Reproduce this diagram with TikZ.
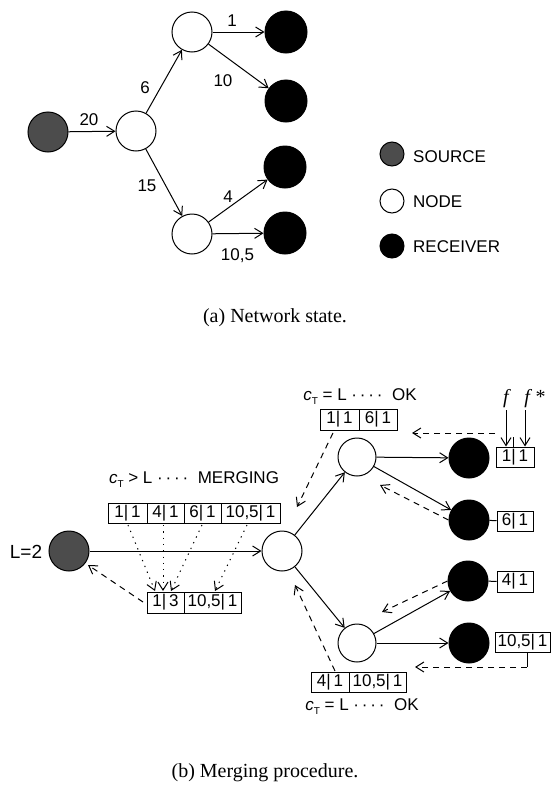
\documentclass[tikz,border=0pt]{standalone}
\usepackage{fontspec}
\setmainfont{Liberation Serif}
\setsansfont{Liberation Sans}
\usetikzlibrary{arrows.meta}
\newcommand{\cTlab}{\textit{c}\raisebox{-0.45ex}{\fontsize{10}{10}\selectfont T}}
\begin{document}
\begin{tikzpicture}[x=1pt,y=-1pt,
  every node/.style={font=\sffamily\fontsize{17}{17}\selectfont},
  srcnode/.style={circle,draw,line width=1pt,fill=black!70,minimum size=40pt,inner sep=0pt},
  inode/.style={circle,draw,line width=1pt,fill=white,minimum size=40pt,inner sep=0pt},
  rnode/.style={circle,draw,line width=1pt,fill=black,minimum size=42pt,inner sep=0pt},
  arr/.style={line width=1pt,-{Straight Barb[length=8pt,width=10pt]}},
  darr/.style={arr,dash pattern=on 6pt off 5pt},
  parr/.style={arr,dash pattern=on 1.3pt off 5pt},
  cell/.style={draw,line width=1pt,minimum height=20pt,inner sep=0pt},
  captext/.style={font=\rmfamily\fontsize{20}{20}\selectfont},
  lbl/.style={inner sep=0pt}
]
\useasboundingbox (0,0) rectangle (552,790);
% ---------- (a) ----------
\node[srcnode] (s) at (48,132) {};
\node[inode] (n0) at (136,131) {};
\node[inode] (n1) at (192,32) {};
\node[inode] (n2) at (192,234) {};
\node[rnode] (r1) at (286,32) {};
\node[rnode] (r2) at (286,101) {};
\node[rnode] (r3) at (285,167) {};
\node[rnode] (r4) at (285,233) {};
\draw[arr] (s) -- (n0);
\draw[arr] (n0) -- (n1);
\draw[arr] (n0) -- (n2);
\draw[arr] (n1) -- (r1);
\draw[arr] (n1) -- (r2);
\draw[arr] (n2) -- (r3);
\draw[arr] (n2) -- (r4);
\node[lbl] (l20) at (89,119.5) {20};
\node[lbl] (l6) at (145,87.5) {6};
\node[lbl] (l15) at (147,186) {15};
\node[lbl] (l1) at (232,20.5) {1};
\node[lbl] (l10) at (223,81) {10};
\node[lbl] (l4) at (228,197) {4};
\node[lbl] (l105) at (237.5,256) {10,5};
% legend
\node[srcnode,minimum size=24pt] (ls) at (392,154) {};
\node[inode,minimum size=24pt] (ln) at (392,201) {};
\node[rnode,minimum size=24pt] (lr) at (392,246) {};
\node[lbl,anchor=west] (lst) at (413,157) {SOURCE};
\node[lbl,anchor=west] (lnt) at (413,202) {NODE};
\node[lbl,anchor=west] (lrt) at (413,247) {RECEIVER};
\node[captext] (capa) at (275,318) {(a) Network state.};
% ---------- (b) ----------
\node[lbl,font=\sffamily\fontsize{19}{19}\selectfont] (L2) at (26,552) {L=2};
\node[srcnode] (s2) at (69,551) {};
\node[inode] (m0) at (282,551) {};
\node[inode,minimum size=38pt] (m1) at (357,457) {};
\node[inode,minimum size=38pt] (m2) at (357,643) {};
\node[rnode,minimum size=40pt] (q1) at (469,458) {};
\node[rnode,minimum size=40pt] (q2) at (469,520) {};
\node[rnode,minimum size=40pt] (q3) at (468,581) {};
\node[rnode,minimum size=40pt] (q4) at (469,643) {};
\draw[arr] (s2) -- (m0);
\draw[arr] (m0) -- (m1);
\draw[arr] (m0) -- (m2);
\draw[arr] (m1) -- (q1);
\draw[arr] (m1) -- (q2);
\draw[arr] (m2) -- (q3);
\draw[arr] (m2) -- (q4);
% receiver boxes
\node[cell,minimum width=38pt] (b1) at (515,457) {1|\,1};
\node[cell,minimum width=36pt] (b2) at (515,521) {6|\,1};
\node[cell,minimum width=36pt,minimum height=21pt] (b3) at (515,581.5) {4|\,1};
\node[cell,minimum width=55pt] (b4) at (522.5,642) {10,5|\,1};
\draw[line width=1pt] (q2) -- (b2);
\draw[line width=1pt] (q3) -- (b3);
% f, f*
\node[captext,inner sep=0pt] (f1) at (507,399) {\textit{f}};
\node[captext,inner sep=0pt] (f2) at (535,399) {\textit{f}\,*};
\coordinate (fa) at (506,410);
\coordinate (fb) at (525,410);
\draw[arr] (fa) -- (fa |- b1.north);
\draw[arr] (fb) -- (fb |- b1.north);
\coordinate (tk1) at (513,437);
\draw[line width=1pt] (tk1) -- (tk1 |- b1.north);
\coordinate (d1s) at (495,433);
\coordinate (d1e) at (412,433);
\draw[darr] (d1s) -- (d1e);
\coordinate (tk4) at (527,667);
\draw[line width=1pt] (tk4 |- b4.south) -- (tk4);
\coordinate (d4e) at (415,667);
\draw[darr] (tk4) -- (d4e);
% top-right and bottom-right merge boxes
\node[cell,minimum width=39pt,minimum height=21pt] (v1) at (339.5,419.5) {1|\,1};
\node[cell,minimum width=38pt,minimum height=21pt] (v2) at (378,419.5) {6|\,1};
\node[lbl] (ok1) at (360,397) {\cTlab\ = L\ ·\,·\,·\,·\ \ OK};
\node[cell,minimum width=38pt] (w1) at (330,682) {4|\,1};
\node[cell,minimum width=57pt] (w2) at (377.5,682) {10,5|\,1};
\node[lbl] (ok2) at (362,707) {\cTlab\ = L\ ·\,·\,·\,·\ \ OK};
% dashed reports to nodes
\coordinate (e1s) at (333,433);
\coordinate (e1e) at (297,507);
\draw[darr] (e1s) -- (e1e);
\coordinate (e2s) at (335,671);
\coordinate (e2e) at (295,585);
\draw[darr] (e2s) -- (e2e);
\coordinate (e3e) at (380,485);
\draw[darr] (q2.west) -- (e3e);
\coordinate (e4e) at (382,612);
\draw[darr] (q3.west) -- (e4e);
% merging boxes
\node[cell,minimum width=39pt] (t1) at (127.5,513) {1|\,1};
\node[cell,minimum width=37pt] (t2) at (165.5,513) {4|\,1};
\node[cell,minimum width=37pt] (t3) at (202.5,513) {6|\,1};
\node[cell,minimum width=59pt] (t4) at (250.5,513) {10,5|\,1};
\node[lbl] (mg) at (194,480) {\cTlab\ > L\ ·\,·\,·\,·\ \ MERGING};
\node[cell,minimum width=37pt,minimum height=21pt] (u1) at (165.5,602.5) {1|\,3};
\node[cell,minimum width=57pt,minimum height=21pt] (u2) at (212.5,602.5) {10,5|\,1};
\coordinate (p1s) at (128,525); \coordinate (p1e) at (155,591);
\coordinate (p2s) at (163,525); \coordinate (p2e) at (163,591);
\coordinate (p3s) at (202,525); \coordinate (p3e) at (171,591);
\coordinate (p4s) at (247,525); \coordinate (p4e) at (215,591);
\draw[parr] (p1s) -- (p1e);
\draw[parr] (p2s) -- (p2e);
\draw[parr] (p3s) -- (p3e);
\draw[parr] (p4s) -- (p4e);
\coordinate (g1s) at (143,602);
\coordinate (g1e) at (88,565);
\draw[darr] (g1s) -- (g1e);
\node[captext] (capb) at (265,773) {(b) Merging procedure.};
\end{tikzpicture}
\end{document}
